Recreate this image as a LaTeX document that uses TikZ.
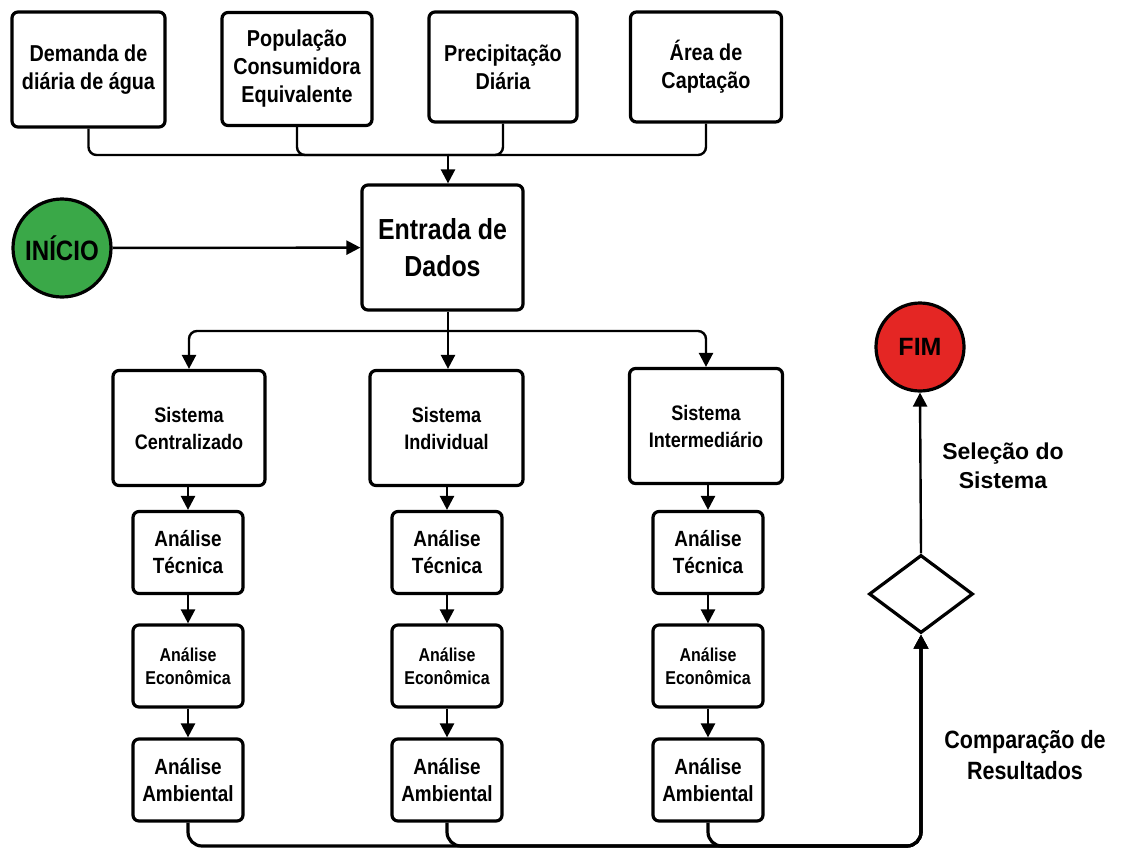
\documentclass[tikz,border=0pt]{standalone}
\usepackage{fontspec}
\setmainfont{Liberation Sans}[FakeStretch=0.86]
\newfontfamily\widefont{Liberation Sans}
\usetikzlibrary{arrows.meta,shapes.geometric}
\definecolor{startgreen}{RGB}{58,168,72}
\definecolor{endred}{RGB}{228,38,36}
\tikzset{
  box/.style={draw=black, line width=1.6pt, rounded corners=3pt, fill=white,
    align=center, inner sep=2pt, font=\bfseries\fontsize{11.5}{14}\selectfont},
  midbox/.style={box, font=\bfseries\fontsize{10.5}{13.5}\selectfont},
  techbox/.style={box, font=\bfseries\fontsize{11}{13.5}\selectfont},
  smallbox/.style={box, font=\bfseries\fontsize{9.3}{11.5}\selectfont},
  conn/.style={draw=black, line width=1.2pt, rounded corners=4pt},
  arr/.style={conn, -{Triangle[length=7pt,width=7pt]}},
  lbl/.style={align=center, font=\bfseries\fontsize{11.5}{14.5}\selectfont}
}
\begin{document}
\begin{tikzpicture}[x=0.5pt,y=-0.5pt]
\useasboundingbox (0,0) rectangle (1124,852);
% top inputs
\node[box, minimum width=76.5pt, minimum height=57.5pt] (dem) at (88.5,69.5) {Demanda de\\diária de água};
\node[box, minimum width=75pt, minimum height=56.5pt] (pop) at (297,69) {População\\Consumidora\\Equivalente};
\node[box, minimum width=74pt, minimum height=55pt] (pre) at (503,67) {Precipitação\\Diária};
\node[box, minimum width=75.5pt, minimum height=55pt] (are) at (706,67) {Área de\\Captação};
% central
\node[box, minimum width=80.5pt, minimum height=62.5pt, font=\bfseries\fontsize{14.5}{18.5}\selectfont] (ent) at (442.5,247.5) {Entrada de\\Dados};
\node[circle, draw=black, line width=1.6pt, fill=startgreen, minimum size=49pt, inner sep=0pt,
  font=\bfseries\fontsize{14}{16}\selectfont] (ini) at (62,248) {INÍCIO};
\coordinate (jt) at (448,155);
\draw[conn] (dem.south) |- (jt);
\draw[conn] (pop.south) |- (jt);
\draw[conn] (pre.south) |- (jt);
\draw[conn] (are.south) |- (jt);
\draw[arr, rounded corners=0pt] (jt) -- (ent.north -| jt);
\draw[arr] (ini) -- (ent);
% systems
\node[midbox, minimum width=76pt, minimum height=57.5pt] (s1) at (189,428) {Sistema\\Centralizado};
\node[midbox, minimum width=76.5pt, minimum height=57.5pt] (s2) at (446.5,428) {Sistema\\Individual};
\node[midbox, minimum width=76.5pt, minimum height=57.5pt] (s3) at (706,426) {Sistema\\Intermediário};
\coordinate (js) at (448,331);
\draw[conn, rounded corners=0pt] (ent.south -| js) -- (js);
\draw[arr] (js) -| (s1.north);
\draw[arr, rounded corners=0pt] (js) -- (s2.north -| js);
\draw[arr] (js) -| (s3.north);
% analysis columns
\foreach \n/\x in {1/188, 2/447, 3/708} {
  \node[techbox, minimum width=55pt, minimum height=41pt] (t\n) at (\x,552.5) {Análise\\Técnica};
  \node[smallbox, minimum width=55pt, minimum height=41pt] (e\n) at (\x,666) {Análise\\Econômica};
  \node[techbox, minimum width=55pt, minimum height=41pt] (a\n) at (\x,780) {Análise\\Ambiental};
  \draw[arr] (s\n.south -| t\n) -- (t\n);
  \draw[arr] (t\n) -- (e\n);
  \draw[arr] (e\n) -- (a\n);
}
% decision and end
\node[diamond, draw=black, line width=1.6pt, fill=white, minimum width=52pt, minimum height=39pt, inner sep=0pt, aspect=1.33] (dec) at (921,594) {};
\node[circle, draw=black, line width=1.6pt, fill=endred, minimum size=44pt, inner sep=0pt,
  font=\bfseries\widefont\fontsize{12.5}{14}\selectfont] (fim) at (920,347) {FIM};
\foreach \n in {1,2,3} {
  \draw[conn, line width=1.6pt, rounded corners=7pt, -{Triangle[length=7pt,width=7pt]}]
    (a\n.south) -- (a\n.south |- 0,846) -- (921,846) -- (dec.south);
}
\draw[arr] (dec.north) -- (fim.south);
% labels
\node[lbl, font=\bfseries\widefont\fontsize{11.5}{14.5}\selectfont] (sel) at (1003,466) {Seleção do\\Sistema};
\node[lbl, font=\bfseries\fontsize{12.5}{15.5}\selectfont] (cmp) at (1025,755) {Comparação de\\Resultados};
\end{tikzpicture}
\end{document}
